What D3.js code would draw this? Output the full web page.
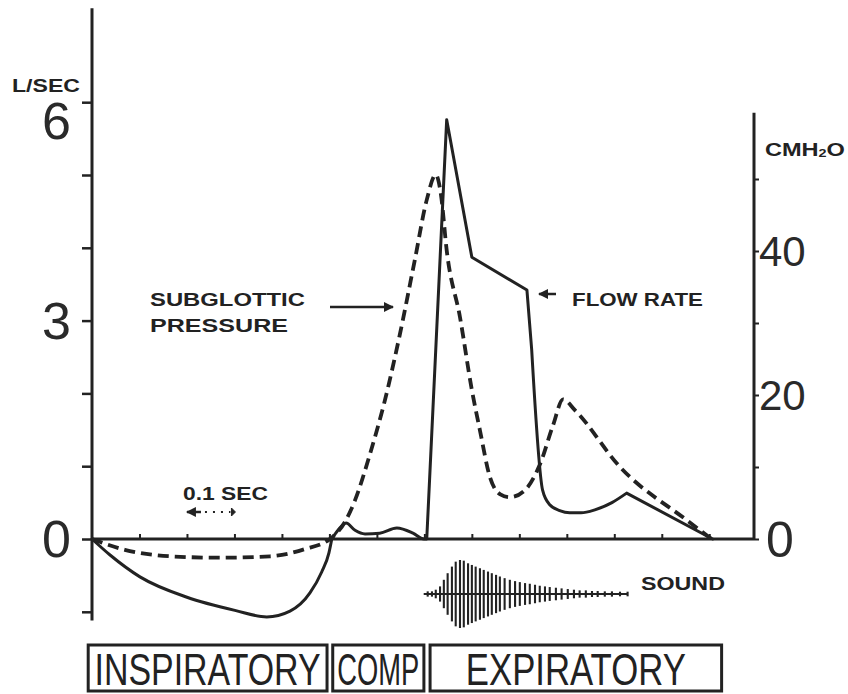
<!DOCTYPE html>
<html>
<head>
<meta charset="utf-8">
<script src="https://cdn.jsdelivr.net/npm/d3@7/dist/d3.min.js"></script>
<style>
  html, body { margin: 0; padding: 0; background: #fff; }
  svg { display: block; }
  .bold { font-family: "Liberation Sans", Arial, sans-serif; font-weight: bold; fill: #222; }
  .num { font-family: "Liberation Sans", Arial, sans-serif; fill: #2a2a2a; }
  .phase { font-family: "Liberation Sans Narrow", "Liberation Sans", Arial, sans-serif; fill: #222; }
</style>
</head>
<body>
<svg id="chart" width="848" height="694"></svg>
<script>
// Flow rate (L/sec) against time (sec)
const flowT = [0, 0.038, 0.101, 0.200, 0.301, 0.368, 0.417, 0.459, 0.484, 0.499, 0.505,
               0.518, 0.535, 0.554, 0.575, 0.606, 0.642, 0.676, 0.699, 0.705,
               0.747, 0.800, 0.916, 0.926, 0.949, 0.964, 0.985, 1.006, 1.030, 1.059, 1.095, 1.126, 1.307];
const flowV = [0, -0.22, -0.52, -0.80, -0.98, -1.07, -0.99, -0.74, -0.45, -0.19, 0,
               0.12, 0.22, 0.12, 0.07, 0.08, 0.15, 0.08, 0, 0,
               5.76, 3.87, 3.42, 2.60, 0.67, 0.47, 0.39, 0.36, 0.36, 0.40, 0.50, 0.63, 0];
// indices where the flow trace has a sharp corner
const flowCorners = [0, 10, 19, 20, 21, 22, 23, 31, 32];

// Subglottic pressure (cmH2O) against time (sec)
const pressT = [0, 0.069, 0.164, 0.269, 0.375, 0.448, 0.501, 0.533, 0.554, 0.585, 0.617,
                0.648, 0.680, 0.705, 0.724, 0.735, 0.747, 0.775, 0.800, 0.817, 0.838,
                0.860, 0.880, 0.912, 0.943, 0.971, 0.992, 1.017, 1.112, 1.253, 1.305];
const pressV = [0, -1.5, -2.4, -2.6, -2.4, -1.4, 0, 2.4, 5.4, 11.7, 19.3,
                28.3, 38.8, 47.1, 50.6, 47.8, 40.1, 30.8, 20.7, 15.1, 8.6,
                6.2, 5.8, 6.8, 10.3, 15.8, 19.4, 17.9, 10.0, 2.6, 0];

// Sound envelope: time of each oscillation and its relative amplitude
const soundT = [0.707, 0.716, 0.724, 0.733, 0.741, 0.749, 0.758, 0.766, 0.775, 0.783,
                0.792, 0.800, 0.808, 0.817, 0.825, 0.834, 0.842, 0.851, 0.859, 0.869,
                0.880, 0.891, 0.901, 0.912, 0.922, 0.933, 0.943, 0.954, 0.964, 0.977,
                0.989, 1.002, 1.015, 1.027, 1.040, 1.053, 1.065, 1.080, 1.095, 1.112, 1.128];
const soundA = [0.5, 0.5, 1, 2, 4, 6, 8, 9.5, 10, 9.8,
                9, 8.5, 8, 7.5, 7, 6.5, 6, 5.5, 5, 4.5,
                4, 3.6, 3.3, 3, 2.8, 2.5, 2.2, 2, 1.8, 1.6,
                1.4, 1.2, 1, 0.8, 0.8, 0.6, 0.6, 0.5, 0.5, 0.4, 0.4];

// Breathing phases (start / end time in sec)
const phaseLabels = ["INSPIRATORY", "COMP", "EXPIRATORY"];
const phaseStart = [-0.008, 0.507, 0.712];
const phaseEnd = [0.495, 0.699, 1.326];

// Axis ticks
const flowTicks = [-1, 0, 1, 2, 3, 4, 5, 6];
const flowLabels = [0, 3, 6];
const pressTicks = [0, 10, 20, 30, 40, 50];
const pressLabels = [0, 20, 40];
const timeTicks = [0.1, 0.2, 0.3, 0.4, 0.5, 0.6, 0.7, 0.8, 0.9, 1.0, 1.1, 1.2, 1.3];

const ink = "#222";
const svg = d3.select("#chart");

const x = d3.scaleLinear().domain([0, 1.39]).range([92, 752]);
const yFlow = d3.scaleLinear().domain([-1, 6]).range([611.8, 102.2]);
const yPress = d3.scaleLinear().domain([0, 50]).range([539, 179]);
const ampScale = d3.scaleLinear().domain([0, 10]).range([0, 33]);

// squeeze a text horizontally so that it spans the given width
function fit(sel, x0, y0, width, anchor) {
  sel.each(function () {
    const natural = this.getComputedTextLength();
    const s = width / natural;
    let left = x0;
    if (anchor === "middle") left = x0 - width / 2;
    d3.select(this).attr("x", 0).attr("y", 0).attr("text-anchor", "start")
      .attr("transform", `translate(${left},${y0}) scale(${s},1)`);
  });
}

// ---- axes ----
const gLeft = svg.append("g").attr("transform", `translate(${x(0)},0)`)
  .call(d3.axisLeft(yFlow).tickValues(flowTicks).tickSize(10).tickFormat(""));
gLeft.select(".domain").remove();
gLeft.selectAll(".tick line").attr("stroke", ink).attr("stroke-width", 2.5);
svg.append("line").attr("x1", x(0)).attr("x2", x(0))
  .attr("y1", yFlow(7.29)).attr("y2", yFlow(-1.12))
  .attr("stroke", ink).attr("stroke-width", 3);

svg.selectAll(".flowLab").data(flowLabels).join("text")
  .attr("class", "num")
  .attr("x", 71)
  .attr("y", d => yFlow(d) + (d === 6 ? 37 : 18))
  .attr("text-anchor", "end")
  .attr("font-size", 52)
  .text(d => d);

const gRight = svg.append("g").attr("transform", `translate(754,0)`)
  .call(d3.axisRight(yPress).tickValues(pressTicks).tickSize(5).tickFormat(""));
gRight.select(".domain").remove();
gRight.selectAll(".tick line").attr("stroke", ink).attr("stroke-width", 2);
svg.append("line").attr("x1", 754).attr("x2", 754)
  .attr("y1", yPress(59.2)).attr("y2", yPress(0))
  .attr("stroke", ink).attr("stroke-width", 3);

svg.selectAll(".pressLab").data(pressLabels).join("text")
  .attr("class", "num")
  .attr("x", d => d === 0 ? 766 : 759)
  .attr("y", d => yPress(d) + (d === 0 ? 18 : 15))
  .attr("font-size", d => d === 0 ? 50 : 42)
  .text(d => d);

// time baseline with 0.1 sec ticks
svg.append("line").attr("x1", x(0)).attr("x2", 754)
  .attr("y1", yFlow(0)).attr("y2", yFlow(0))
  .attr("stroke", ink).attr("stroke-width", 3);
const gTime = svg.append("g").attr("transform", `translate(0,${yFlow(0)})`)
  .call(d3.axisTop(x).tickValues(timeTicks).tickSize(5).tickFormat(""));
gTime.select(".domain").remove();
gTime.selectAll(".tick line").attr("stroke", ink).attr("stroke-width", 2);

// ---- curves ----
// flow: smooth between corners, straight segments where the trace is sharp
const flowPts = flowV.map((v, i) => [x(flowT[i]), yFlow(v)]);
const smooth = d3.line().curve(d3.curveMonotoneX);
let flowPath = "";
for (let k = 0; k < flowCorners.length - 1; k++) {
  const seg = flowPts.slice(flowCorners[k], flowCorners[k + 1] + 1);
  const d = smooth(seg);
  flowPath += k === 0 ? d : d.replace(/^M[^LC]*/, "");
}
svg.append("path")
  .attr("d", flowPath)
  .attr("fill", "none").attr("stroke", ink).attr("stroke-width", 3)
  .attr("stroke-linejoin", "round").attr("stroke-linecap", "round");

const pressLine = d3.line()
  .x((d, i) => x(pressT[i]))
  .y(d => yPress(d))
  .curve(d3.curveMonotoneX);
svg.append("path").datum(pressV)
  .attr("d", pressLine)
  .attr("fill", "none").attr("stroke", ink).attr("stroke-width", 3.8)
  .attr("stroke-dasharray", "11,6");

// ---- sound trace ----
const soundY = 594;
svg.append("line").attr("x1", x(soundT[0]) - 4).attr("x2", x(soundT[soundT.length - 1]))
  .attr("y1", soundY).attr("y2", soundY)
  .attr("stroke", ink).attr("stroke-width", 2);
svg.selectAll(".snd").data(soundA).join("line")
  .attr("x1", (d, i) => x(soundT[i])).attr("x2", (d, i) => x(soundT[i]))
  .attr("y1", d => soundY - ampScale(d) - 1).attr("y2", d => soundY + ampScale(d) + 1)
  .attr("stroke", ink).attr("stroke-width", 2.1);

// ---- annotations ----
function boldText(str, x0, y0, size, len) {
  const t = svg.append("text").attr("class", "bold")
    .attr("font-size", size).text(str);
  fit(t, x0, y0, len, "start");
}
boldText("L/SEC", 12, 92, 18, 68);
boldText("SUBGLOTTIC", 150, 306, 19, 155);
boldText("PRESSURE", 150, 332, 19, 138);
boldText("FLOW RATE", 572, 306, 18, 131);
boldText("0.1 SEC", 183, 500, 19, 85);
boldText("SOUND", 641, 590, 18, 84);

const cm = svg.append("text").attr("class", "bold").attr("font-size", 18);
cm.append("tspan").text("CMH");
cm.append("tspan").attr("font-size", 11).attr("dy", 1).text("2");
cm.append("tspan").attr("dy", -1).text("O");
fit(cm, 765, 156, 80, "start");

// arrows
const defs = svg.append("defs");
defs.append("marker").attr("id", "head").attr("viewBox", "0 0 10 10")
  .attr("refX", 9).attr("refY", 5).attr("markerWidth", 4).attr("markerHeight", 4)
  .attr("orient", "auto-start-reverse").attr("markerUnits", "strokeWidth")
  .append("path").attr("d", "M0,0 L10,5 L0,10 Z").attr("fill", ink);

svg.append("line").attr("x1", 330).attr("x2", 393).attr("y1", 307).attr("y2", 307)
  .attr("stroke", ink).attr("stroke-width", 2.5).attr("marker-end", "url(#head)");
svg.append("line").attr("x1", 556).attr("x2", 539).attr("y1", 294).attr("y2", 294)
  .attr("stroke", ink).attr("stroke-width", 2.5).attr("marker-end", "url(#head)");

// 0.1 sec scale marker
svg.append("line").attr("x1", x(0.2) + 14).attr("x2", x(0.2)).attr("y1", 512).attr("y2", 512)
  .attr("stroke", ink).attr("stroke-width", 2.5).attr("marker-end", "url(#head)");
svg.append("line").attr("x1", x(0.2) + 18).attr("x2", x(0.3) - 4).attr("y1", 512).attr("y2", 512)
  .attr("stroke", ink).attr("stroke-width", 2).attr("stroke-dasharray", "2,6");
svg.append("path")
  .attr("d", `M${x(0.3) - 3},508 L${x(0.3) + 1},512 L${x(0.3) - 3},516 Z`)
  .attr("fill", ink).attr("stroke", ink).attr("stroke-width", 1);

// ---- phase boxes ----
const phases = phaseLabels.map((l, i) => ({ label: l, t0: phaseStart[i], t1: phaseEnd[i] }));
const boxTop = 645, boxBottom = 691;
const pg = svg.selectAll(".phaseBox").data(phases).join("g");
pg.append("rect")
  .attr("x", d => x(d.t0)).attr("y", boxTop)
  .attr("width", d => x(d.t1) - x(d.t0)).attr("height", boxBottom - boxTop)
  .attr("fill", "none").attr("stroke", ink).attr("stroke-width", 3);
const phaseTextLen = { "INSPIRATORY": 226, "COMP": 82, "EXPIRATORY": 220 };
pg.append("text").attr("class", "phase")
  .attr("font-size", 44)
  .text(d => d.label)
  .each(function (d) {
    fit(d3.select(this), (x(d.t0) + x(d.t1)) / 2, 685, phaseTextLen[d.label], "middle");
  });
</script>
</body>
</html>
